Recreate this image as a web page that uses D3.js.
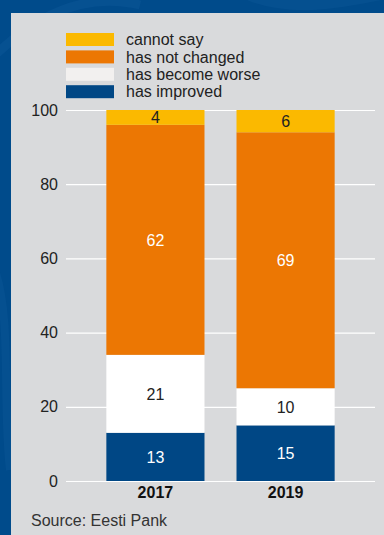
<!DOCTYPE html>
<html>
<head>
<meta charset="utf-8">
<script src="https://cdn.jsdelivr.net/npm/d3@7"></script>
<style>
  html, body { margin: 0; padding: 0; background: #004b8b; }
  svg { display: block; }
  text { font-family: "Liberation Sans", Arial, Helvetica, sans-serif; }
</style>
</head>
<body>
<svg id="chart" width="384" height="535"></svg>
<script>
// Survey answers by year (percent of respondents)
const years = ["2017", "2019"];
const improved   = [13, 15];
const worse      = [21, 10];
const notChanged = [62, 69];
const cannotSay  = [4, 6];

const seriesNames  = ["has improved", "has become worse", "has not changed", "cannot say"];
const seriesValues = [improved, worse, notChanged, cannotSay];
const yTicks = [0, 20, 40, 60, 80, 100];
const sourceText = "Source: Eesti Pank";

const colors = {
  "cannot say": "#fbb900",
  "has not changed": "#ec7703",
  "has become worse": "#ffffff",
  "has improved": "#004785"
};
const legendSwatch = {
  "has become worse": "#f2f0ef"
};
const labelColor = {
  "cannot say": "#222222",
  "has not changed": "#ffffff",
  "has become worse": "#222222",
  "has improved": "#ffffff"
};

const svg = d3.select("#chart");
const W = 384, H = 535;

// Frame: dark blue border with faint swirl decorations, grey panel
const deco = svg.append("g");
deco.append("rect").attr("width", W).attr("height", H).attr("fill", "#004b8b");
const swirl = d3.path();
swirl.moveTo(-10, 60); swirl.bezierCurveTo(30, 20, 80, -10, 140, 5);
deco.append("path").attr("d", swirl.toString()).attr("fill", "none")
  .attr("stroke", "#0a5596").attr("stroke-width", 9).attr("opacity", 0.6);
const swirl2 = d3.path();
swirl2.moveTo(250, -5); swirl2.bezierCurveTo(290, 10, 330, 5, 390, -8);
deco.append("path").attr("d", swirl2.toString()).attr("fill", "none")
  .attr("stroke", "#0a5596").attr("stroke-width", 12).attr("opacity", 0.5);
const swirl3 = d3.path();
swirl3.moveTo(-5, 270); swirl3.bezierCurveTo(12, 320, 2, 400, 10, 470);
deco.append("path").attr("d", swirl3.toString()).attr("fill", "none")
  .attr("stroke", "#0a5596").attr("stroke-width", 8).attr("opacity", 0.5);

svg.append("rect").attr("x", 11).attr("y", 13)
  .attr("width", W - 11).attr("height", H - 13).attr("fill", "#d9dadc");

// Scales
const plotLeft = 66, plotRight = 375;
const y = d3.scaleLinear().domain([0, 100]).range([481, 110]);
const x = d3.scaleBand().domain(years).range([plotLeft, plotRight])
  .paddingInner(0.246).paddingOuter(0.31);

// Gridlines and y tick labels
const yAxis = d3.axisLeft(y).tickValues(yTicks)
  .tickSize(-(plotRight - plotLeft)).tickPadding(8);
const gy = svg.append("g").attr("transform", `translate(${plotLeft},0)`).call(yAxis);
gy.select(".domain").remove();
gy.selectAll(".tick line").attr("stroke", "#ffffff").attr("stroke-width", 1.2);
gy.selectAll(".tick text").attr("fill", "#222222").attr("font-size", 16)
  .attr("font-family", "Liberation Sans, Arial, sans-serif");

// Stack the series
const rows = years.map((yr, i) => {
  const r = { year: yr };
  seriesNames.forEach((s, k) => { r[s] = seriesValues[k][i]; });
  return r;
});
const stack = d3.stack().keys(seriesNames)(rows);

const layers = svg.append("g").selectAll("g").data(stack).join("g")
  .attr("fill", d => colors[d.key]);
layers.selectAll("rect").data(d => d).join("rect")
  .attr("x", d => x(d.data.year))
  .attr("width", x.bandwidth())
  .attr("y", d => y(d[1]))
  .attr("height", d => y(d[0]) - y(d[1]));

// Segment value labels
const labels = svg.append("g").selectAll("g").data(stack).join("g");
labels.selectAll("text").data(d => d.map(p => ({ p, key: d.key }))).join("text")
  .attr("x", d => x(d.p.data.year) + x.bandwidth() / 2)
  .attr("y", d => (y(d.p[0]) + y(d.p[1])) / 2)
  .attr("dy", "0.36em")
  .attr("text-anchor", "middle")
  .attr("font-size", 16)
  .attr("fill", d => labelColor[d.key])
  .text(d => d.p.data[d.key]);

// X axis labels
const xAxis = d3.axisBottom(x).tickSize(0).tickPadding(6);
const gx = svg.append("g").attr("transform", `translate(0,${y(0)})`).call(xAxis);
gx.select(".domain").remove();
gx.selectAll(".tick text").attr("fill", "#111111").attr("font-size", 16)
  .attr("font-weight", "bold").attr("font-family", "Liberation Sans, Arial, sans-serif");

// Legend (top to bottom: cannot say, has not changed, worse, improved)
const legendOrder = seriesNames.slice().reverse();
const legend = svg.append("g").selectAll("g").data(legendOrder).join("g")
  .attr("transform", (d, i) => `translate(66,${33 + i * 17.4})`);
legend.append("rect").attr("width", 48).attr("height", 13)
  .attr("fill", d => legendSwatch[d] || colors[d]);
legend.append("text").attr("x", 60).attr("y", 6.5).attr("dy", "0.36em")
  .attr("font-size", 16).attr("fill", "#222222").text(d => d);

// Source note
svg.append("text").attr("x", 31).attr("y", 526)
  .attr("font-size", 16).attr("fill", "#333333").text(sourceText);
</script>
</body>
</html>
